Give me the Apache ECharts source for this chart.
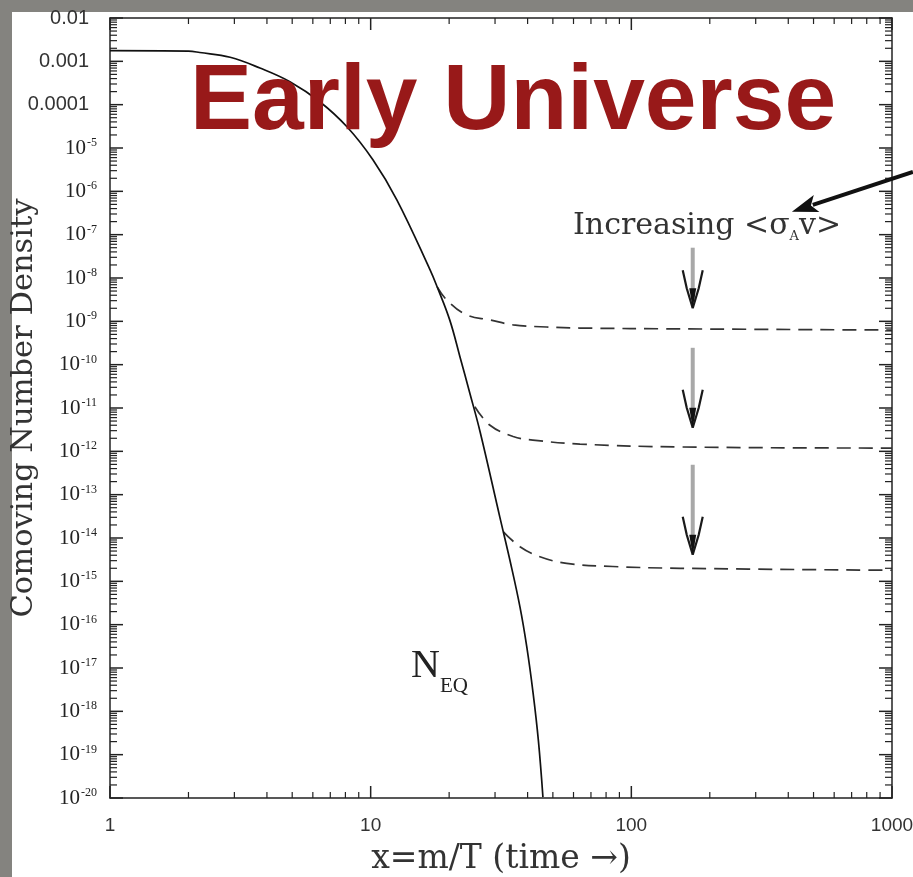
<!DOCTYPE html>
<html><head><meta charset="utf-8">
<script src="https://cdn.jsdelivr.net/npm/echarts@6/dist/echarts.min.js"></script>
<style>
html,body{margin:0;padding:0;background:#84837f;width:913px;height:877px;overflow:hidden}
#panel{position:absolute;left:12px;top:12px;width:901px;height:865px;background:#fff}
#c{position:absolute;left:0;top:0;width:913px;height:877px}
</style>
</head><body><div id="panel"></div><div id="c"></div>
<script>
// ---- data (x = m/T, y = comoving number density) ----
const eqX = [1, 2.0, 2.21, 2.89, 3.76, 4.90, 6.38, 8.11, 10.2, 12.6, 16.9, 18.0, 20.1, 22.0, 24.0, 26.3, 31.3, 34.2, 37.4, 39.7, 42.0, 44.0, 45.8];
const eqY = [1.76e-3, 1.72e-3, 1.6e-3, 1.24e-3, 7.0e-4, 3.38e-4, 1.17e-4, 3.09e-5, 5.35e-6, 6.37e-7, 1.54e-8, 6.2e-9, 1.08e-9, 1.53e-10, 2.22e-11, 2.8e-12, 3.04e-14, 3.1e-15, 2.54e-16, 3.1e-17, 2.6e-18, 2.1e-19, 1.05e-20];

const fo1X = [18.0, 19.6, 23.4, 28.7, 35.2, 47.3, 63.5, 154, 1000];
const fo1Y = [6.2e-9, 3.1e-9, 1.4e-9, 1.08e-9, 8.3e-10, 7.4e-10, 7.0e-10, 6.7e-10, 6.3e-10];
const fo2X = [25.1, 28.7, 35.2, 41.9, 63.5, 154, 1000];
const fo2Y = [1.07e-11, 4.0e-12, 2.2e-12, 1.82e-12, 1.47e-12, 1.26e-12, 1.19e-12];
const fo3X = [32.3, 37.4, 44.6, 56.5, 85, 154, 1000];
const fo3Y = [1.39e-14, 6.3e-15, 3.7e-15, 2.6e-15, 2.2e-15, 2.0e-15, 1.8e-15];

// annotation anchors (data units)
const arrowX = 172;
const arrowTop = [5.0e-8, 2.45e-10, 4.9e-13];
const arrowTip = [2.0e-9, 3.5e-12, 4.1e-15];
const pointerFrom = [1203, 2.8e-6];
const pointerTo = [413, 3.4e-7];

// axis ranges (log10 of values) and tick labels
const xDecades = [0, 1, 2, 3];
const xTickLabels = ['1', '10', '100', '1000'];
const yMinExp = -20, yMaxExp = -2;
const yDecimalLabels = {'-2': '0.01', '-3': '0.001', '-4': '0.0001'};

const L = Math.log10;
const pairs = (xs, ys) => xs.map((x, i) => [L(x), L(ys[i])]);

// tick marks on all four sides: [x, y, side, major]
const ticks = [];
for (let d = 0; d <= 3; d++) {
  ticks.push([d, yMinExp, 0, 1]); ticks.push([d, yMaxExp, 1, 1]);
  if (d < 3) for (let m = 2; m <= 9; m++) {
    const lx = d + L(m);
    ticks.push([lx, yMinExp, 0, 0]); ticks.push([lx, yMaxExp, 1, 0]);
  }
}
for (let d = yMinExp; d <= yMaxExp; d++) {
  ticks.push([0, d, 2, 1]); ticks.push([3, d, 3, 1]);
  if (d < yMaxExp) for (let m = 2; m <= 9; m++) {
    const ly = d + L(m);
    ticks.push([0, ly, 2, 0]); ticks.push([3, ly, 3, 0]);
  }
}

const arrowData = arrowTop.map((t, i) => [L(arrowX), L(t), L(arrowTip[i])]);

const chart = echarts.init(document.getElementById('c'), null, {renderer: 'canvas'});

const axisLineStyle = {color: '#222', width: 1.5};
const xAxisBase = {
  type: 'value', min: 0, max: 3, interval: 1, gridIndex: 0,
  axisLine: {show: true, onZero: false, lineStyle: axisLineStyle},
  axisTick: {show: false},
  splitLine: {show: false}
};
const yAxisBase = {
  type: 'value', min: yMinExp, max: yMaxExp, interval: 1, gridIndex: 0,
  axisLine: {show: true, onZero: false, lineStyle: axisLineStyle},
  axisTick: {show: false},
  splitLine: {show: false}
};

chart.setOption({
  animation: false,
  backgroundColor: 'transparent',
  grid: {left: 110, right: 21, top: 18, bottom: 79, containLabel: false, outerBoundsMode: 'none'},
  xAxis: [
    Object.assign({}, xAxisBase, {
      position: 'bottom',
      axisLabel: {
        formatter: v => xTickLabels[xDecades.indexOf(Math.round(v))],
        fontFamily: 'Liberation Sans', fontSize: 19, color: '#333', margin: 18
      },
      name: 'x=m/T (time \u2192)', nameLocation: 'middle', nameGap: 45, nameMoveOverlap: false,
      nameTextStyle: {fontFamily: 'DejaVu Serif', fontSize: 33, color: '#333'}
    }),
    Object.assign({}, xAxisBase, {position: 'top', axisLabel: {show: false}})
  ],
  yAxis: [
    Object.assign({}, yAxisBase, {
      position: 'left',
      axisLabel: {
        margin: 13,
        formatter: v => {
          const k = String(Math.round(v));
          if (yDecimalLabels[k]) return '{d|' + yDecimalLabels[k] + '}';
          return '{b|10}{s|-' + (-Math.round(v)) + '}';
        },
        rich: {
          d: {fontFamily: 'Liberation Sans', fontSize: 20, color: '#333', padding: [0, 8, 0, 0]},
          b: {fontFamily: 'Liberation Serif', fontSize: 21, color: '#222'},
          s: {fontFamily: 'Liberation Serif', fontSize: 12, color: '#222', padding: [0, 0, 10, 1]}
        }
      },
      name: 'Comoving Number Density', nameLocation: 'middle', nameGap: 70, nameRotate: 90, nameMoveOverlap: false,
      nameTextStyle: {fontFamily: 'DejaVu Serif', fontSize: 30.5, color: '#333'}
    }),
    Object.assign({}, yAxisBase, {position: 'right', axisLabel: {show: false}})
  ],
  graphic: [
    {type: 'text', left: 190, top: 57, z: 100,
      style: {text: 'Early Universe', font: 'bold 93px "Liberation Sans"', fill: '#981919'}},
    {type: 'text', left: 573, top: 211, z: 100,
      style: {
        text: '{t|Increasing <\u03c3}{sub|A}{t|v>}',
        rich: {
          t: {fontFamily: 'DejaVu Serif', fontSize: 30, fill: '#333'},
          sub: {fontFamily: 'DejaVu Serif', fontSize: 13, fill: '#333', padding: [22, 0, 0, 0]}
        }
      }},
    {type: 'text', left: 411, top: 646, z: 100,
      style: {
        text: '{n|N}{e|EQ}',
        rich: {
          n: {fontFamily: 'Liberation Serif', fontSize: 40, fill: '#222'},
          e: {fontFamily: 'Liberation Serif', fontSize: 21, fill: '#222', padding: [40, 0, 0, 0]}
        }
      }}
  ],
  series: [
    {
      name: 'N_EQ', type: 'line', data: pairs(eqX, eqY), xAxisIndex: 0, yAxisIndex: 0,
      showSymbol: false, smooth: 0.4, clip: true,
      lineStyle: {color: '#111', width: 1.7}, silent: true, z: 5
    },
    ...[[fo1X, fo1Y], [fo2X, fo2Y], [fo3X, fo3Y]].map(([xs, ys], i) => ({
      name: 'freeze-out ' + (i + 1), type: 'line', data: pairs(xs, ys),
      showSymbol: false, smooth: 0.4,
      lineStyle: {color: '#333', width: 1.7, type: [14, 8]}, silent: true, z: 4
    })),
    {
      name: 'ticks', type: 'custom', data: ticks, silent: true, z: 6, clip: false,
      renderItem: (p, api) => {
        const pt = api.coord([api.value(0), api.value(1)]);
        const side = api.value(2), major = api.value(3) === 1;
        const lx = major ? 12 : 6, ly = major ? 13 : 7;
        let x2 = pt[0], y2 = pt[1];
        if (side === 0) y2 -= lx; else if (side === 1) y2 += lx; else if (side === 2) x2 += ly; else x2 -= ly;
        return {type: 'line', shape: {x1: pt[0], y1: pt[1], x2: x2, y2: y2},
          style: {stroke: '#222', lineWidth: major ? 1.5 : 1.2}};
      }
    },
    {
      name: 'increasing arrows', type: 'custom', data: arrowData, silent: true, z: 7,
      renderItem: (p, api) => {
        const top = api.coord([api.value(0), api.value(1)]);
        const tip = api.coord([api.value(0), api.value(2)]);
        const x = tip[0], ty = tip[1];
        return {type: 'group', children: [
          {type: 'line', shape: {x1: x, y1: top[1], x2: x, y2: ty - 8}, style: {stroke: '#a8a8a8', lineWidth: 4}},
          {type: 'polyline', shape: {points: [[x - 10, ty - 38], [x - 6, ty - 20], [x, ty]]}, style: {stroke: '#1a1a1a', lineWidth: 2.2, fill: null}},
          {type: 'polyline', shape: {points: [[x + 10, ty - 38], [x + 6, ty - 20], [x, ty]]}, style: {stroke: '#1a1a1a', lineWidth: 2.2, fill: null}},
          {type: 'polygon', shape: {points: [[x - 3.5, ty - 20], [x + 3.5, ty - 20], [x, ty]]}, style: {fill: '#111'}}
        ]};
      }
    },
    {
      name: 'pointer', type: 'custom', data: [[L(pointerFrom[0]), L(pointerFrom[1]), L(pointerTo[0]), L(pointerTo[1])]],
      silent: true, z: 8, clip: false,
      renderItem: (p, api) => {
        const a = api.coord([api.value(0), api.value(1)]);
        const b = api.coord([api.value(2), api.value(3)]);
        const dx = b[0] - a[0], dy = b[1] - a[1], len = Math.hypot(dx, dy);
        const ux = dx / len, uy = dy / len, nx = -uy, ny = ux;
        const hl = 26, hw = 9;
        const base = [b[0] - ux * hl, b[1] - uy * hl];
        return {type: 'group', children: [
          {type: 'line', shape: {x1: a[0], y1: a[1], x2: base[0] + ux * 4, y2: base[1] + uy * 4}, style: {stroke: '#111', lineWidth: 4}},
          {type: 'polygon', shape: {points: [[b[0], b[1]], [base[0] + nx * hw, base[1] + ny * hw], [base[0] + ux * 6, base[1] + uy * 6], [base[0] - nx * hw, base[1] - ny * hw]]}, style: {fill: '#111'}}
        ]};
      }
    }
  ]
});
</script>
</body></html>
